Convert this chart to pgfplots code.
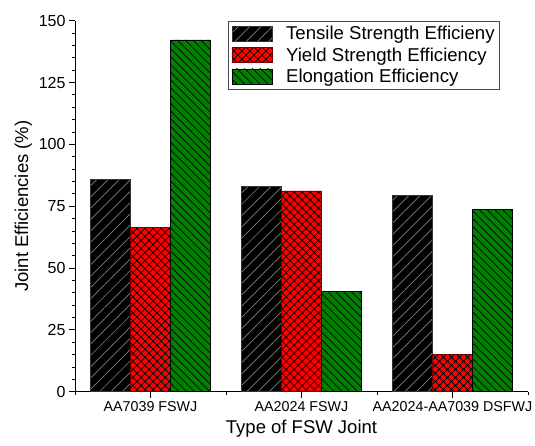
\documentclass[border=0pt]{standalone}
\usepackage{pgfplots}
\pgfplotsset{compat=1.18}
\usepackage{fontspec}
\setmainfont{Liberation Sans}
\usetikzlibrary{patterns.meta}
\definecolor{barred}{RGB}{255,0,0}
\definecolor{bargreen}{RGB}{0,128,0}
\begin{document}
\begin{tikzpicture}
\useasboundingbox (-75bp,-54.3bp) rectangle (460bp,391.7bp);
\begin{axis}[
  at={(0,0)}, anchor=south west,
  scale only axis,
  width=453bp, height=371bp,
  ybar=0pt, bar width=40bp,
  xmin=0.5, xmax=3.5, ymin=0, ymax=150,
  axis lines*=left,
  axis line style={line width=0.8bp},
  xtick={1,2,3},
  xticklabels={AA7039 FSWJ, AA2024 FSWJ, AA2024-AA7039 DSFWJ},
  minor xtick={0.5,1.5,2.5,3.5},
  ytick={0,25,50,75,100,125,150},
  minor y tick num=4,
  tick align=outside,
  major tick length=6bp, minor tick length=3bp,
  tick style={line width=0.8bp, black},
  /pgf/number format/assume math mode=true,
  xticklabel style={font=\fontsize{14.3bp}{16bp}\selectfont},
  yticklabel style={font=\fontsize{16bp}{18bp}\selectfont},
  label style={font=\fontsize{18.5bp}{21bp}\selectfont},
  xlabel={Type of FSW Joint},
  ylabel={Joint Efficiencies (\%)},
  xlabel style={yshift=-2bp},
  ylabel style={yshift=0bp},
  legend style={at={(rel axis cs:0.338,1)}, anchor=north west,
    draw=black!70, line width=0.8bp,
    font=\fontsize{18.6bp}{21bp}\selectfont,
    row sep=2.5bp, inner xsep=3bp, inner ysep=3bp},
  legend cell align=left,
  legend image code/.code={\draw[#1] (0bp,-7.5bp) rectangle (40bp,7.5bp);\path (52bp,0bp);},
]
\addplot[fill=black, draw=black!80, line width=0.6bp,
  postaction={pattern={Lines[angle=45,distance=8bp,line width=0.7bp]}, pattern color=gray}]
  coordinates {(1,85.9) (2,83.0) (3,79.3)};
\addplot[fill=barred, draw=red!45!black, line width=0.6bp,
  postaction={pattern={Hatch[angle=45,distance=5.7bp,line width=0.7bp]}, pattern color=black}]
  coordinates {(1,66.5) (2,81.2) (3,15.1)};
\addplot[fill=bargreen, draw=black, line width=0.6bp,
  postaction={pattern={Lines[angle=-45,distance=5.5bp,line width=0.7bp]}, pattern color=black}]
  coordinates {(1,142.2) (2,40.4) (3,73.8)};
\legend{Tensile Strength Efficieny, Yield Strength Efficiency, Elongation Efficiency}
\end{axis}
\end{tikzpicture}
\end{document}
